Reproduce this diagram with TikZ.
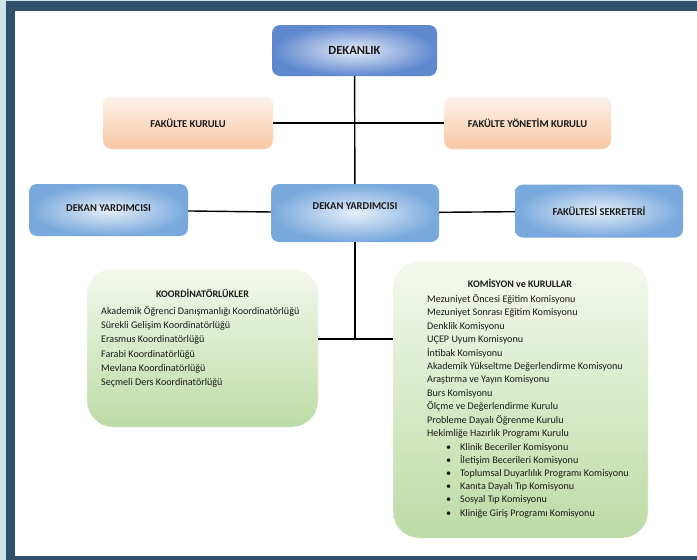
\documentclass[tikz,border=0pt]{standalone}
\usepackage{fontspec}
\setmainfont{Carlito}
\definecolor{pageblue}{HTML}{CFE3EA}
\definecolor{framecol}{HTML}{2E5068}
\definecolor{deinner}{HTML}{E4ECF8}
\definecolor{deouter}{HTML}{5F88CF}
\definecolor{dyinner}{HTML}{E6EFF9}
\definecolor{dyouter}{HTML}{78A8DC}
\definecolor{peachtop}{HTML}{FDF2EA}
\definecolor{peachbot}{HTML}{F8C6A2}
\definecolor{greentop}{HTML}{F4F9EE}
\definecolor{greenbot}{HTML}{BCDBA5}
\definecolor{inktext}{HTML}{1A1A1A}

\begin{document}
\begin{tikzpicture}[x=1pt,y=-1pt,
  topbox/.style={rounded corners=8pt,inner sep=0pt,inner color=deinner,outer color=deouter,
    font=\fontsize{12.5}{14}\selectfont\bfseries,text=inktext},
  peachbox/.style={rounded corners=8pt,inner sep=0pt,top color=peachtop,bottom color=peachbot,
    draw=peachtop,font=\fontsize{10.5}{12}\selectfont\bfseries,text=inktext},
  bluebox/.style={rounded corners=8pt,inner sep=0pt,inner color=dyinner,outer color=dyouter,
    font=\fontsize{10.5}{12}\selectfont\bfseries,text=inktext},
  greenbox/.style={rounded corners=26pt,inner sep=0pt,top color=greentop,bottom color=greenbot,
    draw=greentop},
  headtext/.style={font=\fontsize{10}{12}\selectfont\bfseries,text=inktext},
  itemtext/.style={font=\fontsize{10.1}{12}\selectfont,text=inktext,inner sep=0pt,anchor=base west},
  link/.style={line width=1.4pt}]
\fill[pageblue] (0,0) rectangle (697,560);
\fill[framecol] (6,1) rectangle (697,560);
\fill[white] (15,11) rectangle (697,556);
\useasboundingbox (0,0) rectangle (697,560);

% top of the chart
\path (354.5,50.5) node[topbox,minimum width=165pt,minimum height=51pt] (dekan) {DEKANLIK};
\path (188,123) node[peachbox,minimum width=170pt,minimum height=52pt] (fkurul) {FAKÜLTE KURULU};
\path (527.5,123) node[peachbox,minimum width=167pt,minimum height=52pt] (fyonetim) {FAKÜLTE YÖNETİM KURULU};

\path (108.5,210) node[bluebox,minimum width=159pt,minimum height=52pt,text depth=4pt] (dyleft) {DEKAN YARDIMCISI};
\path (355,213) node[bluebox,minimum width=168pt,minimum height=58pt,text depth=14pt] (dymid) {DEKAN YARDIMCISI};
\path (599,211) node[bluebox,minimum width=168pt,minimum height=53pt] (sekreter) {FAKÜLTESİ SEKRETERİ};

\draw[link] (dekan) -- (dymid);
\draw[link] (fkurul) -- (fyonetim);
\draw[link] (dyleft) -- (dymid);
\draw[link] (dymid) -- (sekreter);

% lower boxes
\path (202.5,348) node[greenbox,minimum width=231pt,minimum height=158pt] (koord) {};
\path (520.5,400) node[greenbox,minimum width=255pt,minimum height=276pt] (komisyon) {};
\coordinate (alt) at (355,339);
\draw[link] (dymid) -- (alt);
\draw[link] (koord.east |- alt) -- (komisyon.west |- alt);

\path (202.5,293) node[headtext] (koordbas) {KOORDİNATÖRLÜKLER};
\foreach \t [count=\i] in {Akademik Öğrenci Danışmanlığı Koordinatörlüğü,Sürekli Gelişim Koordinatörlüğü,
  Erasmus Koordinatörlüğü,Farabi Koordinatörlüğü,Mevlana Koordinatörlüğü,Seçmeli Ders Koordinatörlüğü}
  \path (101,{314.5+(\i-1)*14.2}) node[itemtext] (k\i) {\t};

\path (520,283) node[headtext] (komisbas) {KOMİSYON ve KURULLAR};
\foreach \t [count=\i] in {Mezuniyet Öncesi Eğitim Komisyonu,Mezuniyet Sonrası Eğitim Komisyonu,
  Denklik Komisyonu,UÇEP Uyum Komisyonu,İntibak Komisyonu,Akademik Yükseltme Değerlendirme Komisyonu,
  Araştırma ve Yayın Komisyonu,Burs Komisyonu,Ölçme ve Değerlendirme Kurulu,
  Probleme Dayalı Öğrenme Kurulu,Hekimliğe Hazırlık Programı Kurulu}
  \path (427,{302.5+(\i-1)*13.4}) node[itemtext] (m\i) {\t};
\foreach \t [count=\i] in {Klinik Beceriler Komisyonu,İletişim Becerileri Komisyonu,
  Toplumsal Duyarlılık Programı Komisyonu,Kanıta Dayalı Tıp Komisyonu,Sosyal Tıp Komisyonu,
  Kliniğe Giriş Programı Komisyonu}
  \path (446,{450.5+(\i-1)*13.1}) node[itemtext] (b\i) {\makebox[14pt][l]{\textbullet}\t};
\end{tikzpicture}
\end{document}
